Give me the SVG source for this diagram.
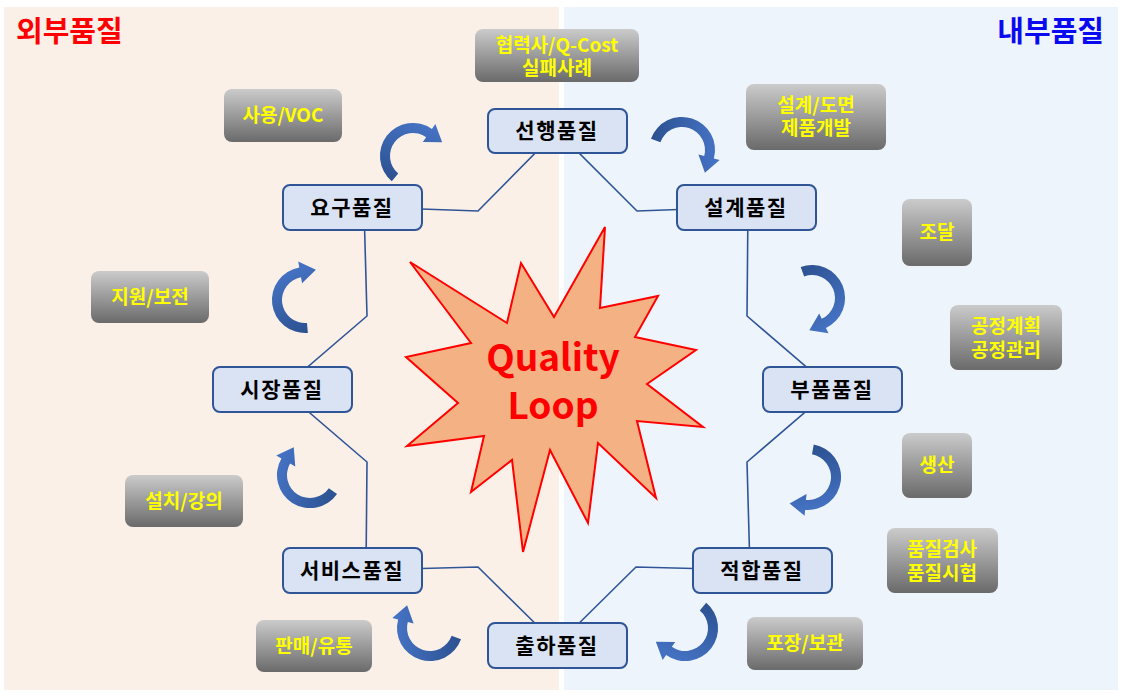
<svg xmlns="http://www.w3.org/2000/svg" width="1123" height="694" viewBox="0 0 1123 694">
<defs>
<style>
.node rect{fill:#DAE3F3;stroke:#2F5597;stroke-width:2}
.node text{font-family:"Noto Sans CJK KR","Noto Sans",sans-serif;font-weight:bold;font-size:21px;fill:#000;text-anchor:middle;letter-spacing:1.5px}
.tag rect{fill:url(#gray)}
.tag text{font-family:"Noto Sans CJK KR","Noto Sans",sans-serif;font-weight:bold;font-size:19px;fill:#FFFF00;text-anchor:middle}
.title{font-family:"Noto Sans CJK KR",sans-serif;font-weight:bold;font-size:29px}
.conn{fill:none;stroke:#2F5597;stroke-width:1.6;stroke-linejoin:miter}
.carrow{fill:url(#blue)}
.loop{font-family:"Noto Sans CJK KR","Noto Sans",sans-serif;font-weight:bold;font-size:37px;fill:#FF0000;text-anchor:middle}
</style>
<linearGradient id="gray" x1="0" y1="0" x2="0" y2="1">
<stop offset="0" stop-color="#CBCBCB"/>
<stop offset="1" stop-color="#6A6A6A"/>
</linearGradient>
<linearGradient id="blue" x1="0" y1="0" x2="1" y2="0">
<stop offset="0" stop-color="#2C5190"/>
<stop offset="1" stop-color="#4674C6"/>
</linearGradient>
<path id="ca" d="M -31.01,-11.29 A 33 33 0 0 1 31.88,8.54 L 37.67,10.09 L 22.91,22.70 L 16.42,4.40 L 22.22,5.95 A 23 23 0 0 0 -21.61,-7.87 Z"/>
</defs>

<rect x="4" y="7" width="555" height="683" fill="#FBF0E8"/>
<rect x="564" y="7" width="554" height="683" fill="#EDF4FB"/>
<text class="title" x="16" y="42" fill="#FF0000">외부품질</text>
<text class="title" x="1104" y="42" fill="#0A0AF0" text-anchor="end">내부품질</text>

<g id="connectors">
<path d="M 364,207 L 478,211 L 557,131 L 637,211 L 748,207 L 747,316 L 832,389 L 747,462 L 750,570 L 636,567 L 557,645 L 478,567 L 366,570 L 367,462 L 282,389 L 367,316 Z" fill="#FFFFFF" class="conn"/>
</g>

<g id="loop">
<polygon points="410,262 507,323 521,263 554,317 605,227 600,308 658,296 635,337 696,350 647,384 703,427 637,421 656,498 598,443 588,523 550,450 523,552 512,460 471,492 484,436 407,446 458,403 406,357 471,343" fill="#F4B183" stroke="#FF0000" stroke-width="2" stroke-linejoin="miter"/>
<text class="loop"><tspan x="553" y="371">Quality</tspan><tspan x="553" y="419">Loop</tspan></text>
</g>

<g id="flow-arrows">
<use href="#ca" class="carrow" transform="translate(413,156) rotate(-70)"/>
<use href="#ca" class="carrow" transform="translate(682,150)"/>
<use href="#ca" class="carrow" transform="translate(812,298) rotate(50)"/>
<use href="#ca" class="carrow" transform="translate(808,477) rotate(80)"/>
<use href="#ca" class="carrow" transform="translate(685,628) rotate(110)"/>
<use href="#ca" class="carrow" transform="translate(430,628) rotate(180)"/>
<use href="#ca" class="carrow" transform="translate(310,475) rotate(195)"/>
<use href="#ca" class="carrow" transform="translate(305,300) rotate(245)"/>
</g>

<g id="n-seonhaeng" class="node"><rect x="488" y="109" width="139" height="44" rx="7"/><text x="557" y="138">선행품질</text></g>
<g id="n-yogu" class="node"><rect x="283" y="185" width="139" height="45" rx="7"/><text x="352" y="215">요구품질</text></g>
<g id="n-seolgye" class="node"><rect x="677" y="185" width="139" height="45" rx="7"/><text x="746" y="215">설계품질</text></g>
<g id="n-sijang" class="node"><rect x="213" y="367" width="139" height="45" rx="7"/><text x="282" y="397">시장품질</text></g>
<g id="n-bupum" class="node"><rect x="763" y="367" width="139" height="45" rx="7"/><text x="832" y="397">부품품질</text></g>
<g id="n-service" class="node"><rect x="283" y="548" width="139" height="45" rx="7"/><text x="352" y="578">서비스품질</text></g>
<g id="n-jeokhap" class="node"><rect x="693" y="548" width="139" height="45" rx="7"/><text x="762" y="578">적합품질</text></g>
<g id="n-chulha" class="node"><rect x="488" y="623" width="139" height="45" rx="7"/><text x="557" y="653">출하품질</text></g>

<g id="t-partner" class="tag"><rect x="475" y="29" width="164" height="53" rx="8"/><text><tspan x="557" y="52">협력사/Q-Cost</tspan><tspan x="557" y="75">실패사례</tspan></text></g>
<g id="t-voc" class="tag"><rect x="224" y="89" width="118" height="53" rx="8"/><text x="283" y="122">사용/VOC</text></g>
<g id="t-design" class="tag"><rect x="746" y="84" width="140" height="66" rx="8"/><text><tspan x="816" y="112">설계/도면</tspan><tspan x="816" y="135">제품개발</tspan></text></g>
<g id="t-procure" class="tag"><rect x="902" y="199" width="70" height="67" rx="8"/><text x="937" y="239">조달</text></g>
<g id="t-process" class="tag"><rect x="950" y="305" width="112" height="65" rx="8"/><text><tspan x="1006" y="333">공정계획</tspan><tspan x="1006" y="357">공정관리</tspan></text></g>
<g id="t-produce" class="tag"><rect x="902" y="433" width="70" height="65" rx="8"/><text x="937" y="472">생산</text></g>
<g id="t-inspect" class="tag"><rect x="887" y="528" width="111" height="65" rx="8"/><text><tspan x="942" y="556">품질검사</tspan><tspan x="942" y="580">품질시험</tspan></text></g>
<g id="t-pack" class="tag"><rect x="747" y="617" width="116" height="53" rx="8"/><text x="805" y="650">포장/보관</text></g>
<g id="t-sales" class="tag"><rect x="256" y="620" width="116" height="52" rx="8"/><text x="314" y="653">판매/유통</text></g>
<g id="t-support" class="tag"><rect x="91" y="271" width="118" height="52" rx="8"/><text x="150" y="304">지원/보전</text></g>
<g id="t-install" class="tag"><rect x="125" y="475" width="118" height="52" rx="8"/><text x="184" y="508">설치/강의</text></g>
</svg>
